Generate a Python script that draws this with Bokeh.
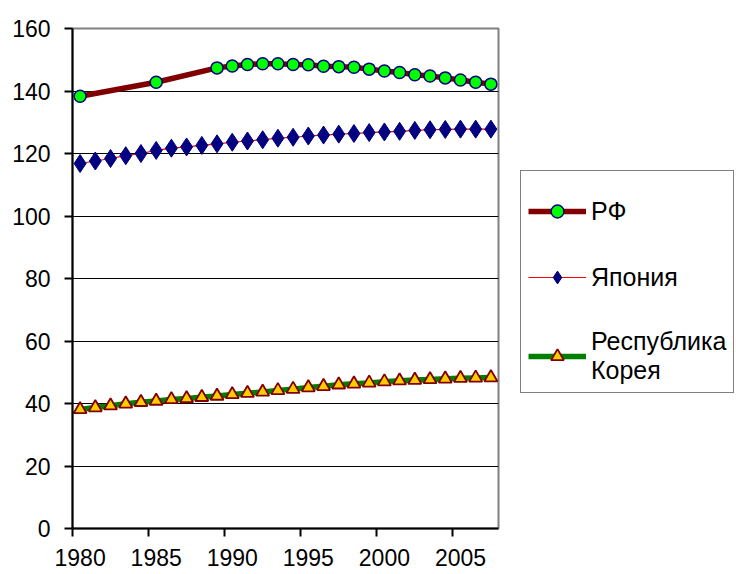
from bokeh.plotting import figure
from bokeh.models import Legend, LegendItem, FixedTicker, Range1d, ColumnDataSource
from bokeh.embed import file_html
from bokeh.resources import INLINE

# Data
rf_years = [1980, 1985, 1989, 1990, 1991, 1992, 1993, 1994, 1995, 1996, 1997, 1998,
            1999, 2000, 2001, 2002, 2003, 2004, 2005, 2006, 2007]
rf_values = [138.3, 142.8, 147.4, 148.0, 148.5, 148.7, 148.7, 148.5, 148.4, 147.9, 147.8, 147.6,
             147.0, 146.4, 145.9, 145.2, 144.8, 144.2, 143.5, 142.8, 142.2]

years = list(range(1980, 2008))
japan_values = [116.8, 117.6, 118.4, 119.3, 120.0, 121.0, 121.7, 122.1, 122.6, 123.1,
                123.6, 124.0, 124.4, 124.9, 125.2, 125.6, 125.9, 126.2, 126.4, 126.7,
                126.9, 127.1, 127.4, 127.6, 127.7, 127.8, 127.8, 127.8]
korea_values = [38.1, 38.7, 39.3, 39.9, 40.4, 40.8, 41.3, 41.6, 42.0, 42.4,
                42.9, 43.3, 43.7, 44.2, 44.6, 45.1, 45.5, 46.0, 46.3, 46.6,
                47.0, 47.3, 47.5, 47.7, 47.9, 48.1, 48.2, 48.3]

x_tick_years = [1980, 1985, 1990, 1995, 2000, 2005]
x_tick_labels = ["1980", "1985", "1990", "1995", "2000", "2005"]
y_ticks = [0, 20, 40, 60, 80, 100, 120, 140, 160]
labels = ["РФ", "Япония", "Республика\nКорея"]

FONT = "Liberation Sans"

p = figure(frame_width=426, frame_height=500, output_backend="svg", toolbar_location=None,
           x_range=Range1d(1980, 2008), y_range=Range1d(0, 160),
           min_border_left=72, min_border_right=238, min_border_top=28, min_border_bottom=44)
p.outline_line_color = "#808080"
p.outline_line_width = 2
p.background_fill_color = "white"
p.border_fill_color = "white"

# Category-centred positions (Excel style category axis)
rf_x = [y + 0.5 for y in rf_years]
all_x = [y + 0.5 for y in years]

rf_src = ColumnDataSource(dict(x=rf_x, y=rf_values))
jp_src = ColumnDataSource(dict(x=all_x, y=japan_values))
kr_src = ColumnDataSource(dict(x=all_x, y=korea_values))

rf_line = p.line("x", "y", source=rf_src, line_color="#800000", line_width=5.5)
rf_pts = p.scatter("x", "y", source=rf_src, marker="circle", size=12,
                   fill_color="#00FF00", line_color="#000080", line_width=1.5)

jp_line = p.line("x", "y", source=jp_src, line_color="#FF0000", line_width=1.2)
jp_pts = p.scatter("x", "y", source=jp_src, marker="diamond", size=18,
                   fill_color="#000080", line_color="#000080", line_width=1)

kr_line = p.line("x", "y", source=kr_src, line_color="#008000", line_width=5.5)
kr_pts = p.scatter("x", "y", source=kr_src, marker="triangle", size=13,
                   fill_color="#FFCC00", line_color="#800000", line_width=1.8)

# Axes: labels at category centres, tick marks at category boundaries
label_pos = [y + 0.5 for y in x_tick_years]
p.xaxis.ticker = FixedTicker(ticks=label_pos, minor_ticks=x_tick_years)
p.xaxis.major_label_overrides = {pos: lab for pos, lab in zip(label_pos, x_tick_labels)}
p.xaxis.major_tick_line_color = None
p.xaxis.minor_tick_line_color = "black"
p.xaxis.minor_tick_line_width = 2
p.xaxis.minor_tick_out = 8
p.xaxis.minor_tick_in = 0

p.yaxis.ticker = FixedTicker(ticks=y_ticks)
p.yaxis.major_tick_line_color = "black"
p.yaxis.major_tick_line_width = 2
p.yaxis.major_tick_out = 8
p.yaxis.major_tick_in = 0
p.yaxis.minor_tick_line_color = None

for ax in (p.xaxis, p.yaxis):
    ax.axis_line_color = "black"
    ax.axis_line_width = 2
    ax.major_label_text_font = FONT
    ax.major_label_text_font_size = "23px"
    ax.major_label_text_color = "black"
p.xaxis.major_label_standoff = 12
p.yaxis.major_label_standoff = 14

p.xgrid.grid_line_color = None
p.ygrid.grid_line_color = "black"
p.ygrid.grid_line_width = 1.2

legend = Legend(items=[
    LegendItem(label=labels[0], renderers=[rf_line, rf_pts]),
    LegendItem(label=labels[1], renderers=[jp_line, jp_pts]),
    LegendItem(label=labels[2], renderers=[kr_line, kr_pts]),
], location=(22, 135))
legend.title = " "
legend.title_text_font_size = "10px"
legend.title_standoff = 6
legend.label_text_font = FONT
legend.label_text_font_size = "25px"
legend.label_text_line_height = 1.4
legend.label_text_color = "black"
legend.border_line_color = "black"
legend.border_line_width = 1.5
legend.background_fill_alpha = 1
legend.glyph_width = 58
legend.glyph_height = 32
legend.label_standoff = 5
legend.padding = 7
legend.spacing = 34
legend.margin = 0
p.add_layout(legend, "right")

open("out.html", "w").write(file_html(p, INLINE))
